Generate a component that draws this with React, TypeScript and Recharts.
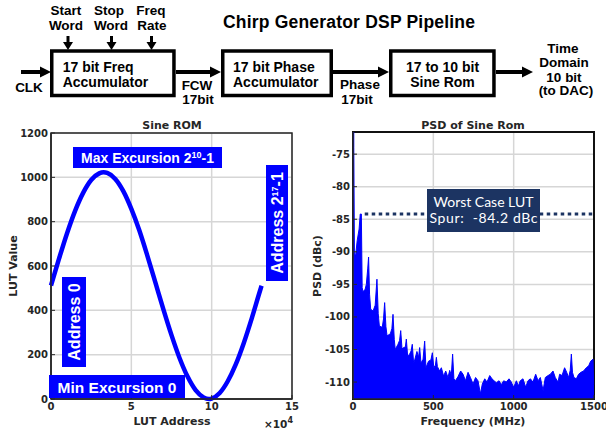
import React from 'react';
import {
  LineChart,
  Line,
  AreaChart,
  Area,
  XAxis,
  YAxis,
  CartesianGrid,
  ReferenceArea,
  ReferenceLine,
} from 'recharts';

// Sine ROM contents: LUT address -> 10 bit output value
const lutAddress = [
  0, 5000, 10000, 15000, 20000, 25000, 30000, 32768, 35000, 40000, 45000, 50000, 55000, 60000, 65000,
  70000, 75000, 80000, 85000, 90000, 95000, 98304, 100000, 105000, 110000, 115000, 120000, 125000,
  130000, 131071,
];
const lutValue = [
  512, 633, 748, 849, 930, 988, 1018, 1023, 1020, 993, 938, 858, 760, 646, 525,
  403, 288, 185, 101, 40, 7, 0, 2, 27, 80, 156, 253, 365,
  486, 511,
];
const lutTicksX = [0, 50000, 100000, 150000];
const lutTicksY = [0, 200, 400, 600, 800, 1000, 1200];

// PSD of the sine ROM output, frequency (MHz) vs level (dBc)
const psdFreq = [
  0, 5, 9, 17, 26, 38, 45, 52, 57, 62,
  75, 83, 92, 97, 103, 110, 125, 138, 149, 157,
  164, 182, 190, 197, 205, 212, 232, 242, 249, 257,
  263, 280, 290, 297, 305, 316, 326, 332, 340, 353,
  362, 369, 377, 384, 398, 408, 415, 423, 436, 446,
  454, 470, 485, 494, 503, 513, 519, 525, 539, 550,
  564, 577, 591, 602, 612, 620, 628, 637, 653, 670,
  685, 700, 716, 731, 747, 763, 778, 793, 805, 820,
  834, 851, 865, 878, 892, 909, 923, 938, 954, 971,
  985, 1000, 1017, 1029, 1041, 1058, 1075, 1089, 1104, 1120,
  1137, 1152, 1166, 1183, 1197, 1214, 1228, 1245, 1259, 1276,
  1286, 1301, 1317, 1330, 1342, 1352, 1359, 1366, 1375, 1390,
  1404, 1419, 1435, 1452, 1467, 1479, 1494, 1498, 1500,
];
const psdLevel = [
  0, -74, -90.5, -90.4, -88.3, -86.5, -84.2, -84.2, -95.5, -96.1,
  -95.8, -95.0, -92.5, -90.8, -96.5, -98.8, -99.1, -98.2, -94.2, -99.5,
  -101.4, -101.6, -100.3, -97.8, -101.5, -102.9, -102.6, -101.8, -99.6, -103.5,
  -105.0, -104.2, -103.6, -102.1, -104.9, -104.7, -104.6, -103.4, -106.0, -105.7,
  -105.2, -104.2, -107.0, -106.6, -105.3, -106.2, -104.7, -107.1, -106.5, -103.7,
  -107.8, -106.8, -106.6, -105.5, -107.8, -107.4, -106.2, -107.6, -108.3, -107.8,
  -109.1, -108.3, -109.3, -108.2, -109.0, -105.7, -109.5, -109.8, -109.2, -108.3,
  -108.8, -109.8, -108.5, -109.3, -110.3, -109.3, -109.8, -111.8, -110.3, -109.5,
  -110.0, -109.0, -109.5, -109.8, -110.1, -109.8, -110.4, -109.8, -110.0, -109.5,
  -110.0, -110.8, -109.8, -110.6, -109.8, -109.5, -110.8, -109.8, -109.5, -110.0,
  -108.8, -109.8, -109.3, -111.3, -109.3, -109.0, -108.8, -108.3, -109.3, -110.0,
  -108.8, -109.0, -107.8, -108.5, -109.3, -108.2, -105.7, -108.5, -109.3, -109.5,
  -108.8, -108.5, -108.3, -107.8, -107.5, -106.8, -106.5, -110.4, -110.4,
];
const psdTicksX = [0, 500, 1000, 1500];
const psdTicksY = [-110, -105, -100, -95, -90, -85, -80, -75];
const psdDomain = [-112.6, -71.6];
const worstSpur = -84.2;
const worstSpurFreq = 73;

const sineRom = lutAddress.map((addr, i) => ({ addr, value: lutValue[i] }));
const psd = psdFreq.map((freq, i) => ({ freq, level: psdLevel[i] }));

const AXIS = '#262626';
const BLUE = '#0000ff';
const NAVY = '#1c3462';
const GRID = '#d6d6d6';
const chartFont = 'DejaVu Sans, sans-serif';
const diagFont = 'Liberation Sans, Arial, sans-serif';

const tickStyle = { fill: AXIS, fontSize: 10, fontWeight: 'bold', fontFamily: chartFont };

function SineRomChart() {
  return (
    <LineChart width={303} height={318} data={sineRom} margin={{ top: 18, right: 11, bottom: 12, left: 0 }}>
      <CartesianGrid stroke={GRID} strokeWidth={1.5} />
      <ReferenceArea x1={0} x2={150000} y1={0} y2={1200} fill="none" stroke={AXIS} strokeWidth={1.5} />
      <XAxis
        type="number"
        dataKey="addr"
        domain={[0, 150000]}
        ticks={lutTicksX}
        tickFormatter={(v: number) => String(v / 10000)}
        height={22}
        tickSize={-4}
        tickMargin={8}
        axisLine={{ stroke: AXIS, strokeWidth: 1.5 }}
        tickLine={{ stroke: AXIS }}
        tick={tickStyle}
      />
      <YAxis
        type="number"
        domain={[0, 1200]}
        ticks={lutTicksY}
        width={51}
        tickSize={-4}
        tickMargin={7}
        axisLine={{ stroke: AXIS, strokeWidth: 1.5 }}
        tickLine={{ stroke: AXIS }}
        tick={tickStyle}
      />
      <Line
        type="monotone"
        dataKey="value"
        stroke={BLUE}
        strokeWidth={4.5}
        dot={false}
        isAnimationActive={false}
      />
    </LineChart>
  );
}

function PsdChart() {
  return (
    <AreaChart width={303} height={318} data={psd} margin={{ top: 17, right: 12, bottom: 12, left: 0 }}>
      <CartesianGrid stroke={GRID} strokeWidth={1.5} />
      <ReferenceArea x1={0} x2={1500} y1={psdDomain[0]} y2={psdDomain[1]} fill="none" stroke="#111" strokeWidth={2} />
      <XAxis
        type="number"
        dataKey="freq"
        domain={[0, 1500]}
        ticks={psdTicksX}
        height={22}
        tickSize={-4}
        tickMargin={8}
        axisLine={{ stroke: AXIS, strokeWidth: 1.5 }}
        tickLine={{ stroke: AXIS }}
        tick={tickStyle}
      />
      <YAxis
        type="number"
        domain={psdDomain}
        allowDataOverflow
        ticks={psdTicksY}
        width={50}
        tickSize={-4}
        tickMargin={7}
        axisLine={{ stroke: AXIS, strokeWidth: 1.5 }}
        tickLine={{ stroke: AXIS }}
        tick={tickStyle}
      />
      <Area
        type="linear"
        dataKey="level"
        baseValue="dataMin"
        stroke={BLUE}
        strokeWidth={1}
        fill={BLUE}
        fillOpacity={1}
        isAnimationActive={false}
      />
      <ReferenceLine
        segment={[
          { x: worstSpurFreq, y: worstSpur },
          { x: 1500, y: worstSpur },
        ]}
        stroke={NAVY}
        strokeWidth={3}
        strokeDasharray="3.5 3.5"
      />
    </AreaChart>
  );
}

function Arrow({ x1, x2, y, head = 11, half = 5.5 }: { x1: number; x2: number; y: number; head?: number; half?: number }) {
  return (
    <g>
      <line x1={x1} y1={y} x2={x2 - head + 1} y2={y} stroke="#000" strokeWidth={4} />
      <polygon points={`${x2 - head},${y - half} ${x2},${y} ${x2 - head},${y + half}`} fill="#000" />
    </g>
  );
}

function DownArrow({ x, y1, y2 }: { x: number; y1: number; y2: number }) {
  return (
    <g>
      <line x1={x} y1={y1} x2={x} y2={y2 - 7} stroke="#000" strokeWidth={3} />
      <polygon points={`${x - 5},${y2 - 8} ${x},${y2} ${x + 5},${y2 - 8}`} fill="#000" />
    </g>
  );
}

function Overlay() {
  const lbl = { fontFamily: diagFont, fontWeight: 'bold' as const, fontSize: 13.5, fill: '#000' };
  const boxTxt = { fontFamily: diagFont, fontWeight: 'bold' as const, fontSize: 14, fill: '#000' };
  const axTitle = { fontFamily: chartFont, fontWeight: 'bold' as const, fontSize: 11, fill: AXIS };
  const note = { fontFamily: diagFont, fontWeight: 'bold' as const, fill: '#fff' };
  return (
    <svg width={606} height={433} style={{ position: 'absolute', left: 0, top: 0, pointerEvents: 'none' }}>
      {/* pipeline block diagram */}
      <text x={349} y={28} textAnchor="middle" fontFamily={diagFont} fontWeight="bold" fontSize={17.5} textLength={252}>
        Chirp Generator DSP Pipeline
      </text>
      <text x={66} y={15} textAnchor="middle" {...lbl}>Start</text>
      <text x={66} y={30} textAnchor="middle" {...lbl}>Word</text>
      <text x={109} y={15} textAnchor="middle" {...lbl}>Stop</text>
      <text x={111} y={30} textAnchor="middle" {...lbl}>Word</text>
      <text x={151} y={15} textAnchor="middle" {...lbl}>Freq</text>
      <text x={152} y={30} textAnchor="middle" {...lbl}>Rate</text>
      <DownArrow x={68} y1={36} y2={50} />
      <DownArrow x={111.5} y1={36} y2={50} />
      <DownArrow x={151.5} y1={36} y2={50} />

      <rect x={51.75} y={51} width={122.2} height={44.5} fill="none" stroke="#000" strokeWidth={3.5} />
      <text x={62.7} y={71.5} {...boxTxt}>17 bit Freq</text>
      <text x={62.7} y={86.5} {...boxTxt}>Accumulator</text>

      <rect x={222.75} y={51} width={108.5} height={44.5} fill="none" stroke="#000" strokeWidth={3.5} />
      <text x={233} y={71.5} {...boxTxt}>17 bit Phase</text>
      <text x={233} y={86.5} {...boxTxt}>Accumulator</text>

      <rect x={390.75} y={51} width={103.2} height={44.5} fill="none" stroke="#000" strokeWidth={3.5} />
      <text x={442.5} y={71.5} textAnchor="middle" {...boxTxt}>17 to 10 bit</text>
      <text x={442.5} y={86.5} textAnchor="middle" {...boxTxt}>Sine Rom</text>

      <Arrow x1={21} x2={51} y={72} />
      <text x={29} y={92} textAnchor="middle" {...lbl}>CLK</text>
      <Arrow x1={176} x2={221} y={72} />
      <text x={197} y={90} textAnchor="middle" {...lbl}>FCW</text>
      <text x={198} y={103.5} textAnchor="middle" {...lbl}>17bit</text>
      <Arrow x1={333} x2={389} y={72} />
      <text x={360} y={89} textAnchor="middle" {...lbl}>Phase</text>
      <text x={357} y={103.5} textAnchor="middle" {...lbl}>17bit</text>
      <Arrow x1={496} x2={533} y={72} />
      <text x={563} y={53} textAnchor="middle" {...lbl}>Time</text>
      <text x={564} y={67} textAnchor="middle" {...lbl}>Domain</text>
      <text x={564} y={81.5} textAnchor="middle" {...lbl}>10 bit</text>
      <text x={566} y={95} textAnchor="middle" {...lbl}>(to DAC)</text>

      {/* Sine ROM panel titles */}
      <text x={172} y={129} textAnchor="middle" {...axTitle}>Sine ROM</text>
      <text x={172} y={425} textAnchor="middle" {...axTitle}>LUT Address</text>
      <text transform="translate(16.5,266) rotate(-90)" textAnchor="middle" {...axTitle}>LUT Value</text>
      <text x={264} y={428} {...axTitle} fontSize={10.5}>
        ×10<tspan dy={-5} fontSize={8}>4</tspan>
      </text>

      <rect x={73} y={147} width={149} height={21} fill={BLUE} />
      <text x={147.5} y={163} textAnchor="middle" {...note} fontSize={14}>
        Max Excursion 2<tspan dy={-5} fontSize={9}>10</tspan><tspan dy={5}>-1</tspan>
      </text>
      <rect x={49} y={375} width={136} height={23} fill={BLUE} />
      <text x={117} y={392.5} textAnchor="middle" {...note} fontSize={15.5}>Min Excursion 0</text>
      <rect x={62} y={277} width={24} height={90} fill={BLUE} />
      <text transform="translate(79.5,322) rotate(-90)" textAnchor="middle" {...note} fontSize={16}>Address 0</text>
      <rect x={266} y={165} width={22} height={116} fill={BLUE} />
      <text transform="translate(282.5,223) rotate(-90)" textAnchor="middle" {...note} fontSize={16}>
        Address 2<tspan dy={-5} fontSize={9}>17</tspan><tspan dy={5}>-1</tspan>
      </text>

      {/* PSD panel titles */}
      <text x={473} y={129} textAnchor="middle" {...axTitle}>PSD of Sine Rom</text>
      <text x={473} y={424.5} textAnchor="middle" {...axTitle}>Frequency (MHz)</text>
      <text transform="translate(321,266) rotate(-90)" textAnchor="middle" {...axTitle}>PSD (dBc)</text>

      <rect x={427} y={189} width={113} height={43} fill={NAVY} />
      <text x={483.5} y={207} textAnchor="middle" fontFamily="Lato, sans-serif" fontSize={14} fill="#fff" textLength={100}>
        Worst Case LUT
      </text>
      <text x={483.5} y={222.5} textAnchor="middle" fontFamily="Lato, sans-serif" fontSize={14} fill="#fff" textLength={108}
        xmlSpace="preserve">
        {'Spur:  -84.2 dBc'}
      </text>
    </svg>
  );
}

export default function App() {
  return (
    <div style={{ position: 'absolute', left: 0, top: 0, width: 606, height: 433, background: '#fff', overflow: 'hidden' }}>
      <div style={{ position: 'absolute', left: 0, top: 115 }}>
        <SineRomChart />
      </div>
      <div style={{ position: 'absolute', left: 303, top: 115 }}>
        <PsdChart />
      </div>
      <Overlay />
    </div>
  );
}
